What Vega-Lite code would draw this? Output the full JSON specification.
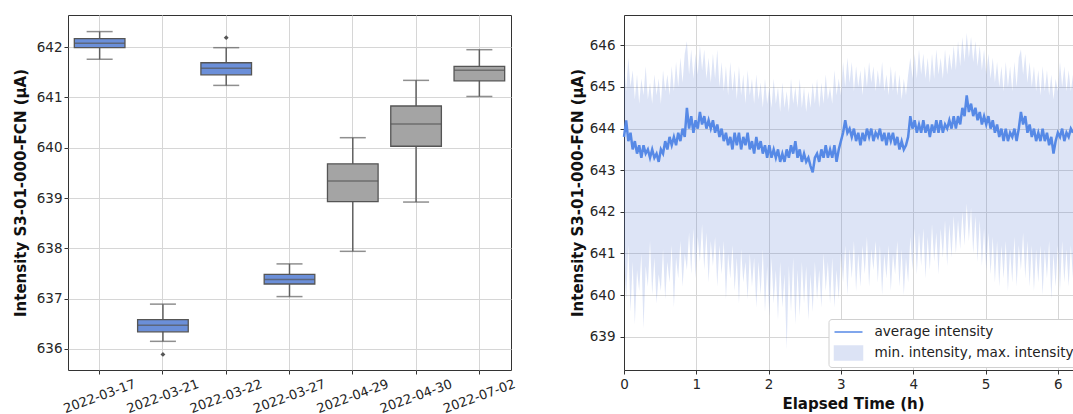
{
  "$schema": "https://vega.github.io/schema/vega-lite/v6.json",
  "padding": {"left": 12, "top": 14, "right": 0, "bottom": 0},
  "background": "white",
  "config": {
    "font": "DejaVu Sans",
    "axis": {"labelColor": "#262626", "titleColor": "#111111", "gridColor": "#d6d6d6", "gridWidth": 1, "tickColor": "#333333", "tickSize": 4, "domainColor": "#333333", "labelFontSize": 13.5, "titleFontSize": 15, "titleFontWeight": "bold"},
    "view": {"stroke": "#333333", "strokeWidth": 1}
  },
  "spacing": 52,
  "datasets": {
    "boxes": [
      {"date": "2022-03-17", "lower": 641.76, "q1": 641.99, "median": 642.08, "q3": 642.17, "upper": 642.31, "grp": "blue"},
      {"date": "2022-03-21", "lower": 636.15, "q1": 636.34, "median": 636.47, "q3": 636.58, "upper": 636.89, "grp": "blue"},
      {"date": "2022-03-22", "lower": 641.24, "q1": 641.45, "median": 641.58, "q3": 641.69, "upper": 641.99, "grp": "blue"},
      {"date": "2022-03-27", "lower": 637.04, "q1": 637.29, "median": 637.38, "q3": 637.48, "upper": 637.69, "grp": "blue"},
      {"date": "2022-04-29", "lower": 637.94, "q1": 638.93, "median": 639.34, "q3": 639.68, "upper": 640.2, "grp": "gray"},
      {"date": "2022-04-30", "lower": 638.92, "q1": 640.03, "median": 640.47, "q3": 640.83, "upper": 641.34, "grp": "gray"},
      {"date": "2022-07-02", "lower": 641.02, "q1": 641.33, "median": 641.54, "q3": 641.62, "upper": 641.95, "grp": "gray"}
    ],
    "outliers": [
      {"date": "2022-03-21", "value": 635.89},
      {"date": "2022-03-22", "value": 642.19}
    ],
    "series": [
      {"t":0.00,"avg":643.8,"min":640.9,"max":645.6},{"t":0.03,"avg":644.2,"min":639.9,"max":644.9},{"t":0.06,"avg":643.7,"min":641.2,"max":645.7},{"t":0.09,"avg":643.9,"min":639.6,"max":645.0},{"t":0.12,"avg":643.5,"min":640.8,"max":645.4},{"t":0.15,"avg":643.7,"min":639.3,"max":644.7},{"t":0.18,"avg":643.4,"min":640.6,"max":645.3},{"t":0.21,"avg":643.6,"min":640.1,"max":644.6},{"t":0.24,"avg":643.3,"min":641.0,"max":645.2},{"t":0.27,"avg":643.6,"min":639.2,"max":644.8},
      {"t":0.30,"avg":643.4,"min":640.7,"max":645.5},{"t":0.33,"avg":643.5,"min":640.2,"max":644.7},{"t":0.36,"avg":643.3,"min":641.3,"max":645.1},{"t":0.39,"avg":643.5,"min":640.0,"max":644.6},{"t":0.42,"avg":643.3,"min":640.9,"max":645.3},{"t":0.45,"avg":643.4,"min":639.8,"max":644.8},{"t":0.48,"avg":643.2,"min":640.5,"max":645.2},{"t":0.51,"avg":643.5,"min":640.1,"max":644.6},{"t":0.54,"avg":643.4,"min":641.1,"max":645.4},{"t":0.57,"avg":643.7,"min":639.9,"max":644.9},
      {"t":0.60,"avg":643.5,"min":640.8,"max":645.3},{"t":0.63,"avg":643.8,"min":640.3,"max":644.8},{"t":0.66,"avg":643.6,"min":641.2,"max":645.5},{"t":0.69,"avg":643.8,"min":639.7,"max":644.9},{"t":0.72,"avg":643.6,"min":640.9,"max":645.6},{"t":0.75,"avg":643.9,"min":640.4,"max":645.0},{"t":0.78,"avg":643.7,"min":641.3,"max":645.7},{"t":0.81,"avg":644.0,"min":640.2,"max":645.1},{"t":0.84,"avg":643.8,"min":641.0,"max":645.8},{"t":0.87,"avg":644.5,"min":640.6,"max":646.1},
      {"t":0.90,"avg":644.0,"min":641.5,"max":645.3},{"t":0.93,"avg":644.3,"min":640.5,"max":645.9},{"t":0.96,"avg":643.9,"min":641.6,"max":645.2},{"t":0.99,"avg":644.2,"min":640.4,"max":645.8},{"t":1.02,"avg":644.0,"min":641.4,"max":645.3},{"t":1.05,"avg":644.4,"min":640.8,"max":646.0},{"t":1.08,"avg":644.1,"min":641.7,"max":645.4},{"t":1.11,"avg":644.3,"min":640.6,"max":645.9},{"t":1.14,"avg":644.0,"min":641.5,"max":645.2},{"t":1.17,"avg":644.2,"min":640.3,"max":645.7},
      {"t":1.20,"avg":644.0,"min":641.3,"max":645.1},{"t":1.23,"avg":644.2,"min":640.7,"max":645.8},{"t":1.26,"avg":643.9,"min":641.4,"max":645.2},{"t":1.29,"avg":644.1,"min":640.2,"max":645.9},{"t":1.32,"avg":643.8,"min":641.2,"max":645.0},{"t":1.35,"avg":644.0,"min":640.5,"max":645.6},{"t":1.38,"avg":643.7,"min":641.3,"max":644.9},{"t":1.41,"avg":643.9,"min":639.9,"max":645.5},{"t":1.44,"avg":643.6,"min":641.0,"max":644.8},{"t":1.47,"avg":643.8,"min":640.4,"max":645.6},
      {"t":1.50,"avg":643.5,"min":641.2,"max":644.9},{"t":1.53,"avg":643.9,"min":640.1,"max":645.4},{"t":1.56,"avg":643.6,"min":640.9,"max":644.7},{"t":1.59,"avg":643.9,"min":639.8,"max":645.5},{"t":1.62,"avg":643.5,"min":641.1,"max":644.8},{"t":1.65,"avg":643.8,"min":640.3,"max":645.3},{"t":1.68,"avg":643.6,"min":640.8,"max":644.6},{"t":1.71,"avg":643.9,"min":639.9,"max":645.4},{"t":1.74,"avg":643.5,"min":641.0,"max":644.8},{"t":1.77,"avg":643.7,"min":640.2,"max":645.2},
      {"t":1.80,"avg":643.4,"min":640.9,"max":644.6},{"t":1.83,"avg":643.8,"min":639.7,"max":645.3},{"t":1.86,"avg":643.5,"min":640.8,"max":644.7},{"t":1.89,"avg":643.7,"min":640.0,"max":645.1},{"t":1.92,"avg":643.4,"min":641.1,"max":644.5},{"t":1.95,"avg":643.6,"min":639.6,"max":645.2},{"t":1.98,"avg":643.3,"min":640.7,"max":644.6},{"t":2.01,"avg":643.6,"min":639.5,"max":645.0},{"t":2.04,"avg":643.3,"min":640.9,"max":644.5},{"t":2.07,"avg":643.5,"min":639.8,"max":645.2},
      {"t":2.10,"avg":643.3,"min":640.6,"max":644.6},{"t":2.13,"avg":643.5,"min":639.4,"max":645.0},{"t":2.16,"avg":643.2,"min":640.8,"max":644.4},{"t":2.19,"avg":643.4,"min":639.7,"max":645.1},{"t":2.22,"avg":643.2,"min":640.5,"max":644.5},{"t":2.25,"avg":643.5,"min":638.7,"max":644.9},{"t":2.28,"avg":643.3,"min":640.7,"max":644.4},{"t":2.31,"avg":643.6,"min":639.6,"max":645.2},{"t":2.34,"avg":643.4,"min":640.9,"max":644.6},{"t":2.37,"avg":643.7,"min":639.3,"max":645.0},
      {"t":2.40,"avg":643.3,"min":640.6,"max":644.5},{"t":2.43,"avg":643.5,"min":639.5,"max":645.2},{"t":2.46,"avg":643.2,"min":640.8,"max":644.5},{"t":2.49,"avg":643.4,"min":639.8,"max":645.0},{"t":2.52,"avg":643.2,"min":640.7,"max":644.4},{"t":2.55,"avg":643.3,"min":639.4,"max":644.9},{"t":2.58,"avg":643.1,"min":640.5,"max":644.5},{"t":2.61,"avg":642.95,"min":639.6,"max":645.1},{"t":2.64,"avg":643.3,"min":640.8,"max":644.6},{"t":2.67,"avg":643.4,"min":639.9,"max":645.2},
      {"t":2.70,"avg":643.2,"min":640.6,"max":644.5},{"t":2.73,"avg":643.5,"min":639.7,"max":645.1},{"t":2.76,"avg":643.3,"min":641.0,"max":644.6},{"t":2.79,"avg":643.6,"min":640.1,"max":645.3},{"t":2.82,"avg":643.3,"min":640.8,"max":644.7},{"t":2.85,"avg":643.5,"min":639.8,"max":645.0},{"t":2.88,"avg":643.3,"min":640.9,"max":644.6},{"t":2.91,"avg":643.6,"min":639.7,"max":645.4},{"t":2.94,"avg":643.2,"min":640.6,"max":644.8},{"t":2.97,"avg":643.5,"min":639.9,"max":645.2},
      {"t":3.00,"avg":643.7,"min":641.0,"max":644.8},{"t":3.03,"avg":643.9,"min":640.3,"max":645.6},{"t":3.06,"avg":644.2,"min":641.2,"max":645.0},{"t":3.09,"avg":643.9,"min":640.0,"max":645.7},{"t":3.12,"avg":644.0,"min":641.1,"max":645.1},{"t":3.15,"avg":643.8,"min":640.4,"max":645.6},{"t":3.18,"avg":644.0,"min":641.3,"max":644.9},{"t":3.21,"avg":643.7,"min":640.1,"max":645.5},{"t":3.24,"avg":643.9,"min":641.0,"max":645.0},{"t":3.27,"avg":643.6,"min":640.2,"max":645.4},
      {"t":3.30,"avg":643.9,"min":641.2,"max":644.8},{"t":3.33,"avg":643.7,"min":640.5,"max":645.5},{"t":3.36,"avg":644.0,"min":641.4,"max":645.0},{"t":3.39,"avg":643.8,"min":640.2,"max":645.6},{"t":3.42,"avg":644.0,"min":641.1,"max":645.1},{"t":3.45,"avg":643.7,"min":640.6,"max":645.5},{"t":3.48,"avg":643.9,"min":641.3,"max":644.9},{"t":3.51,"avg":643.8,"min":640.3,"max":645.4},{"t":3.54,"avg":644.0,"min":641.2,"max":645.0},{"t":3.57,"avg":643.7,"min":640.0,"max":645.6},
      {"t":3.60,"avg":643.9,"min":641.0,"max":644.9},{"t":3.63,"avg":643.6,"min":640.4,"max":645.3},{"t":3.66,"avg":643.9,"min":641.2,"max":644.8},{"t":3.69,"avg":643.7,"min":640.1,"max":645.5},{"t":3.72,"avg":643.9,"min":641.0,"max":644.9},{"t":3.75,"avg":643.6,"min":640.5,"max":645.4},{"t":3.78,"avg":643.8,"min":641.3,"max":644.8},{"t":3.81,"avg":643.5,"min":640.2,"max":645.3},{"t":3.84,"avg":643.7,"min":641.1,"max":644.7},{"t":3.87,"avg":643.5,"min":640.0,"max":645.2},
      {"t":3.90,"avg":643.6,"min":640.9,"max":644.8},{"t":3.93,"avg":643.8,"min":640.3,"max":645.3},{"t":3.96,"avg":644.3,"min":641.4,"max":645.7},{"t":3.99,"avg":644.0,"min":640.6,"max":645.2},{"t":4.02,"avg":644.2,"min":641.6,"max":645.8},{"t":4.05,"avg":643.9,"min":640.5,"max":645.2},{"t":4.08,"avg":644.1,"min":641.5,"max":645.9},{"t":4.11,"avg":643.9,"min":640.7,"max":645.3},{"t":4.14,"avg":644.2,"min":641.6,"max":645.8},{"t":4.17,"avg":643.9,"min":640.4,"max":645.2},
      {"t":4.20,"avg":644.1,"min":641.4,"max":645.7},{"t":4.23,"avg":643.8,"min":640.6,"max":645.1},{"t":4.26,"avg":644.1,"min":641.7,"max":645.8},{"t":4.29,"avg":643.9,"min":640.8,"max":645.2},{"t":4.32,"avg":644.2,"min":641.5,"max":645.9},{"t":4.35,"avg":643.9,"min":640.5,"max":645.3},{"t":4.38,"avg":644.2,"min":641.6,"max":645.7},{"t":4.41,"avg":643.9,"min":640.9,"max":645.2},{"t":4.44,"avg":644.1,"min":641.8,"max":645.9},{"t":4.47,"avg":644.0,"min":640.7,"max":645.3},
      {"t":4.50,"avg":644.2,"min":641.7,"max":645.8},{"t":4.53,"avg":644.0,"min":640.9,"max":645.4},{"t":4.56,"avg":644.3,"min":641.9,"max":646.0},{"t":4.59,"avg":644.0,"min":641.0,"max":645.4},{"t":4.62,"avg":644.3,"min":641.8,"max":646.1},{"t":4.65,"avg":644.1,"min":641.1,"max":645.5},{"t":4.68,"avg":644.5,"min":642.0,"max":646.2},{"t":4.71,"avg":644.3,"min":641.2,"max":645.6},{"t":4.74,"avg":644.8,"min":642.2,"max":646.3},{"t":4.77,"avg":644.4,"min":641.3,"max":645.7},
      {"t":4.80,"avg":644.6,"min":642.1,"max":646.2},{"t":4.83,"avg":644.3,"min":641.0,"max":645.6},{"t":4.86,"avg":644.5,"min":641.9,"max":646.1},{"t":4.89,"avg":644.2,"min":640.8,"max":645.5},{"t":4.92,"avg":644.4,"min":641.8,"max":646.0},{"t":4.95,"avg":644.1,"min":640.7,"max":645.4},{"t":4.98,"avg":644.3,"min":641.6,"max":645.9},{"t":5.01,"avg":644.1,"min":640.6,"max":645.3},{"t":5.04,"avg":644.3,"min":641.5,"max":645.8},{"t":5.07,"avg":644.0,"min":640.5,"max":645.2},
      {"t":5.10,"avg":644.2,"min":641.4,"max":645.7},{"t":5.13,"avg":643.9,"min":640.3,"max":645.1},{"t":5.16,"avg":644.1,"min":641.3,"max":645.6},{"t":5.19,"avg":643.8,"min":640.2,"max":645.0},{"t":5.22,"avg":644.0,"min":641.2,"max":645.5},{"t":5.25,"avg":643.7,"min":640.4,"max":644.9},{"t":5.28,"avg":644.0,"min":641.3,"max":645.6},{"t":5.31,"avg":643.7,"min":640.1,"max":645.0},{"t":5.34,"avg":643.9,"min":641.1,"max":645.5},{"t":5.37,"avg":643.8,"min":640.3,"max":644.9},
      {"t":5.40,"avg":644.0,"min":641.4,"max":645.6},{"t":5.43,"avg":643.7,"min":640.2,"max":645.0},{"t":5.46,"avg":644.0,"min":641.2,"max":645.7},{"t":5.49,"avg":644.4,"min":640.6,"max":645.9},{"t":5.52,"avg":644.1,"min":641.5,"max":645.3},{"t":5.55,"avg":644.3,"min":640.4,"max":645.8},{"t":5.58,"avg":643.9,"min":641.3,"max":645.1},{"t":5.61,"avg":644.1,"min":640.2,"max":645.6},{"t":5.64,"avg":643.8,"min":641.2,"max":645.0},{"t":5.67,"avg":644.0,"min":640.1,"max":645.5},
      {"t":5.70,"avg":643.7,"min":641.1,"max":644.9},{"t":5.73,"avg":643.9,"min":640.3,"max":645.4},{"t":5.76,"avg":643.7,"min":641.2,"max":644.8},{"t":5.79,"avg":644.0,"min":640.0,"max":645.5},{"t":5.82,"avg":643.7,"min":641.1,"max":644.9},{"t":5.85,"avg":643.9,"min":640.4,"max":645.4},{"t":5.88,"avg":643.6,"min":641.3,"max":644.8},{"t":5.91,"avg":643.8,"min":639.9,"max":645.3},{"t":5.94,"avg":643.4,"min":641.0,"max":644.7},{"t":5.97,"avg":643.7,"min":640.2,"max":645.2},
      {"t":6.00,"avg":643.9,"min":641.2,"max":644.9},{"t":6.03,"avg":643.8,"min":640.1,"max":645.6},{"t":6.06,"avg":644.0,"min":641.3,"max":645.0},{"t":6.09,"avg":643.7,"min":640.3,"max":645.5},{"t":6.12,"avg":643.9,"min":641.1,"max":644.9},{"t":6.15,"avg":643.8,"min":640.2,"max":645.4},{"t":6.18,"avg":644.0,"min":641.2,"max":644.9},{"t":6.21,"avg":643.9,"min":640.4,"max":645.3}
    ]
  },
  "hconcat": [
    {
      "width": 443,
      "height": 355,
      "encoding": {
        "x": {"field": "date", "type": "nominal", "title": null,
          "scale": {"paddingInner": 0, "paddingOuter": 0},
          "axis": {"bandPosition": 0.5, "grid": true, "labelAngle": -20, "labelAlign": "center", "labelBaseline": "middle", "labelPadding": 22, "labelFontSize": 13, "domain": false}}
      },
      "layer": [
        {
          "data": {"name": "boxes"},
          "mark": {"type": "rule", "color": "#606060", "strokeWidth": 1.5},
          "encoding": {
            "y": {"field": "lower", "type": "quantitative",
              "scale": {"domain": [635.58, 642.64], "nice": false, "zero": false},
              "axis": {"values": [636, 637, 638, 639, 640, 641, 642], "grid": true, "domain": false, "labelPadding": 2, "titlePadding": 8},
              "title": "Intensity S3-01-000-FCN (µA)"},
            "y2": {"field": "upper"}
          }
        },
        {
          "data": {"name": "boxes"},
          "mark": {"type": "tick", "color": "#606060", "size": 26, "thickness": 1.5},
          "encoding": {"y": {"field": "lower", "type": "quantitative"}}
        },
        {
          "data": {"name": "boxes"},
          "mark": {"type": "tick", "color": "#606060", "size": 26, "thickness": 1.5},
          "encoding": {"y": {"field": "upper", "type": "quantitative"}}
        },
        {
          "data": {"name": "boxes"},
          "mark": {"type": "bar", "width": {"band": 0.8}, "stroke": "#555555", "strokeWidth": 1.3},
          "encoding": {
            "y": {"field": "q3", "type": "quantitative"},
            "y2": {"field": "q1"},
            "fill": {"field": "grp", "type": "nominal", "scale": {"domain": ["blue", "gray"], "range": ["#6b8fd9", "#a4a4a4"]}, "legend": null}
          }
        },
        {
          "data": {"name": "boxes"},
          "mark": {"type": "tick", "color": "#555555", "size": 50.6, "thickness": 1.5},
          "encoding": {"y": {"field": "median", "type": "quantitative"}}
        },
        {
          "data": {"name": "outliers"},
          "mark": {"type": "point", "shape": "diamond", "filled": true, "color": "#555555", "size": 24, "opacity": 1},
          "encoding": {"y": {"field": "value", "type": "quantitative"}}
        }
      ]
    },
    {
      "width": 449,
      "height": 355,
      "view": {"stroke": null},
      "data": {"name": "series"},
      "resolve": {"axis": {"x": "independent"}},
      "layer": [
        {
          "mark": {"type": "area", "opacity": 0.2, "interpolate": "linear"},
          "encoding": {
            "x": {"field": "t", "type": "quantitative",
              "scale": {"domain": [0, 6.21], "nice": false, "zero": false},
              "axis": {"values": [0, 1, 2, 3, 4, 5, 6], "grid": true, "labelPadding": 3, "titlePadding": 6, "labelFlush": false, "titleX": 229},
              "title": "Elapsed Time (h)"},
            "y": {"field": "min", "type": "quantitative",
              "scale": {"domain": [638.2, 646.73], "nice": false, "zero": false},
              "axis": {"values": [639, 640, 641, 642, 643, 644, 645, 646], "grid": true, "labelPadding": 5, "titlePadding": 4},
              "title": "Intensity S3-01-000-FCN (µA)"},
            "y2": {"field": "max"},
            "color": {"datum": "min. intensity, max. intensity"}
          }
        },
        {
          "mark": {"type": "line", "strokeWidth": 2.5, "interpolate": "linear"},
          "encoding": {
            "x": {"field": "t", "type": "quantitative",
              "axis": {"orient": "top", "labels": false, "ticks": false, "grid": false, "title": null, "domain": true}},
            "y": {"field": "avg", "type": "quantitative"},
            "color": {"datum": "average intensity",
              "scale": {"domain": ["average intensity", "min. intensity, max. intensity"], "range": ["#5689e6", "#5578d2"]},
              "legend": {
                "title": null, "orient": "none", "legendX": 760.5, "legendY": 304,
                "fillColor": "#ffffff", "strokeColor": "#d0d0d0", "cornerRadius": 3, "padding": 4,
                "labelFontSize": 13.6, "labelColor": "#222222", "labelOffset": 24, "rowPadding": 4, "labelLimit": 0,
                "symbolSize": 256, "symbolStrokeWidth": 1.5,
                "encode": {"symbols": {"update": {
                  "shape": [{"test": "datum.value === 'average intensity'", "value": "M-0.875,0H2.625"}, {"value": "M-0.875,-0.875H2.625V0.875H-0.875Z"}],
                  "fill": [{"test": "datum.value === 'average intensity'", "value": "transparent"}, {"value": "#5578d2"}],
                  "stroke": [{"test": "datum.value === 'average intensity'", "value": "#5b8ce8"}, {"value": "transparent"}],
                  "opacity": [{"test": "datum.value === 'average intensity'", "value": 1}, {"value": 0.2}],
                  "strokeWidth": {"value": 1.5}
                }}}
              }}
          }
        }
      ]
    }
  ]
}
